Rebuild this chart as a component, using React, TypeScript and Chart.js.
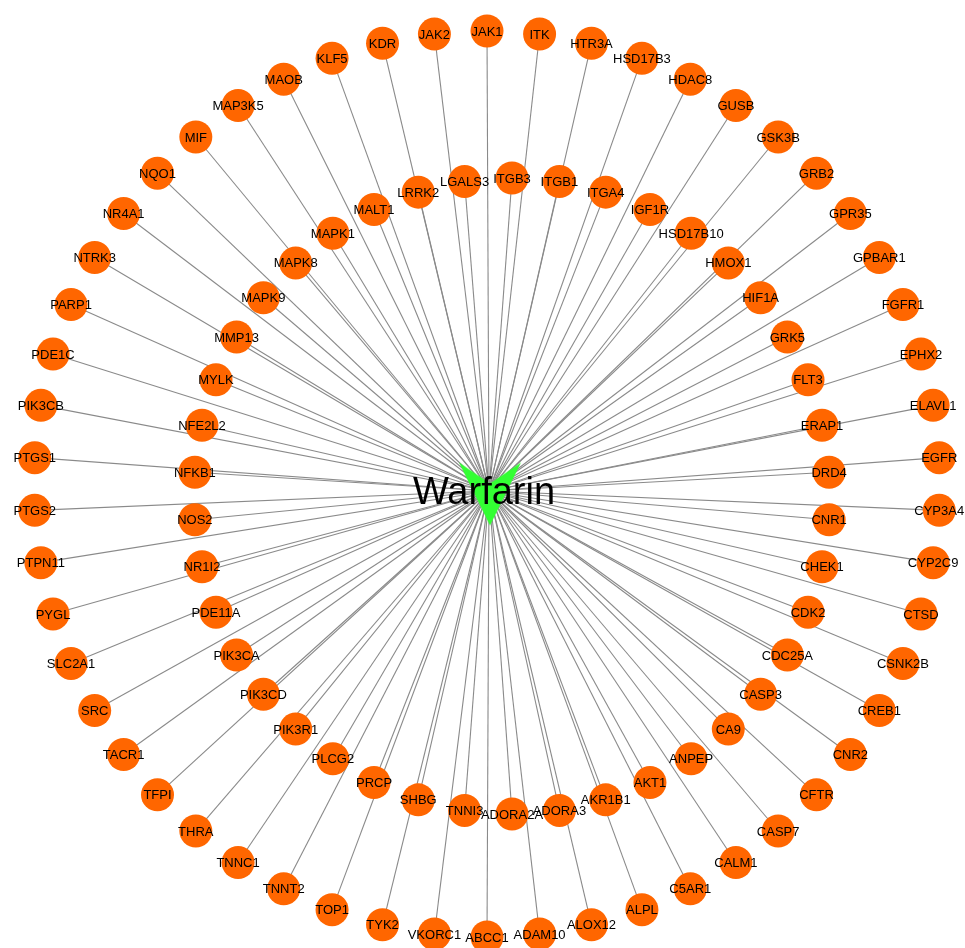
import React, { useEffect, useRef } from "react";
import { Chart, registerables } from "chart.js";

Chart.register(...registerables);

// ---- data ----
const drugName = "Warfarin";

// outer ring of targets, counter-clockwise from the bottom
const outerTargets = [
  "ABCC1", "ADAM10", "ALOX12", "ALPL", "C5AR1", "CALM1", "CASP7", "CFTR", "CNR2", "CREB1",
  "CSNK2B", "CTSD", "CYP2C9", "CYP3A4", "EGFR", "ELAVL1", "EPHX2", "FGFR1", "GPBAR1", "GPR35",
  "GRB2", "GSK3B", "GUSB", "HDAC8", "HSD17B3", "HTR3A", "ITK", "JAK1", "JAK2", "KDR",
  "KLF5", "MAOB", "MAP3K5", "MIF", "NQO1", "NR4A1", "NTRK3", "PARP1", "PDE1C", "PIK3CB",
  "PTGS1", "PTGS2", "PTPN11", "PYGL", "SLC2A1", "SRC", "TACR1", "TFPI", "THRA", "TNNC1",
  "TNNT2", "TOP1", "TYK2", "VKORC1",
];

// inner ring of targets, counter-clockwise from the bottom
const innerTargets = [
  "ADORA2A", "ADORA3", "AKR1B1", "AKT1", "ANPEP", "CA9", "CASP3", "CDC25A", "CDK2", "CHEK1",
  "CNR1", "DRD4", "ERAP1", "FLT3", "GRK5", "HIF1A", "HMOX1", "HSD17B10", "IGF1R", "ITGA4",
  "ITGB1", "ITGB3", "LGALS3", "LRRK2", "MALT1", "MAPK1", "MAPK8", "MAPK9", "MMP13", "MYLK",
  "NFE2L2", "NFKB1", "NOS2", "NR1I2", "PDE11A", "PIK3CA", "PIK3CD", "PIK3R1", "PLCG2", "PRCP",
  "SHBG", "TNNI3",
];

// ---- layout (circular layout, computed from index) ----
const W = 965;
const H = 948;
const DRUG = { x: 490, y: 494 };
const EDGE_HUB = { x: 489, y: 491 };
const OUTER = { cx: 487, cy: 484, r: 453 };
const INNER = { cx: 512, cy: 496, r: 318 };

function ring(names: string[], c: { cx: number; cy: number; r: number }) {
  const n = names.length;
  return names.map((name, i) => {
    const t = (i / n) * Math.PI * 2;
    return { x: c.cx + c.r * Math.sin(t), y: c.cy + c.r * Math.cos(t), name };
  });
}

function makeVShape(): HTMLCanvasElement {
  const c = document.createElement("canvas");
  const w = 62, h = 63;
  c.width = w + 2;
  c.height = h + 2;
  const ctx = c.getContext("2d")!;
  const ox = 1 + w / 2, oy = 1 + h / 2;
  ctx.fillStyle = "#33ff33";
  ctx.beginPath();
  ctx.moveTo(ox - w / 2, oy - h / 2);
  ctx.lineTo(ox, oy - h / 6);
  ctx.lineTo(ox + w / 2, oy - h / 2);
  ctx.lineTo(ox, oy + h / 2);
  ctx.closePath();
  ctx.fill();
  return c;
}

const labelPlugin = {
  id: "nodeLabels",
  afterDatasetsDraw(chart: any) {
    const ctx = chart.ctx;
    ctx.save();
    ctx.textAlign = "center";
    ctx.textBaseline = "middle";
    chart.data.datasets.forEach((ds: any, di: number) => {
      if (!ds.nodeLabels) return;
      const meta = chart.getDatasetMeta(di);
      ctx.font = ds.labelFont;
      ctx.fillStyle = "#000000";
      meta.data.forEach((el: any, i: number) => {
        const dx = ds.labelDx || 0;
        const dy = ds.labelDy || 0;
        ctx.fillText(ds.nodeLabels[i], el.x + dx, el.y + dy);
      });
    });
    ctx.restore();
  },
};

export default function App() {
  const ref = useRef<HTMLCanvasElement | null>(null);

  useEffect(() => {
    if (!ref.current) return;
    const outer = ring(outerTargets, OUTER);
    const inner = ring(innerTargets, INNER);
    const targets = [...outer, ...inner];

    const edgeSets = targets.map((t) => ({
      type: "scatter" as const,
      data: [
        { x: EDGE_HUB.x, y: EDGE_HUB.y },
        { x: t.x, y: t.y },
      ],
      showLine: true,
      borderColor: "#8a8a8a",
      borderWidth: 1.1,
      pointRadius: 0,
      pointHoverRadius: 0,
      clip: false,
      order: 10,
    }));

    const chart = new Chart(ref.current, {
      type: "scatter",
      data: {
        datasets: [
          {
            data: [{ x: DRUG.x, y: DRUG.y }],
            pointStyle: makeVShape() as any,
            pointRadius: 32,
            clip: false,
            order: 1,
            nodeLabels: [drugName],
            labelFont: "38px 'Liberation Sans', Arial, sans-serif",
            labelDx: -6,
            labelDy: 0,
          } as any,
          {
            data: targets.map((t) => ({ x: t.x, y: t.y })),
            backgroundColor: "#ff6600",
            borderColor: "#ff6600",
            borderWidth: 0,
            pointRadius: 16.5,
            pointHoverRadius: 16.5,
            clip: false,
            order: 2,
            nodeLabels: targets.map((t) => t.name),
            labelFont: "13px 'Liberation Sans', Arial, sans-serif",
            labelDx: 0,
            labelDy: 1,
          } as any,
          ...edgeSets,
        ],
      },
      options: {
        animation: false,
        responsive: false,
        devicePixelRatio: 1,
        layout: { padding: 0, autoPadding: false },
        events: [],
        plugins: {
          legend: { display: false },
          tooltip: { enabled: false },
          title: { display: false },
        },
        scales: {
          x: { type: "linear", display: false, min: 0, max: W },
          y: { type: "linear", display: false, min: 0, max: H, reverse: true },
        },
      },
      plugins: [labelPlugin],
    });
    return () => chart.destroy();
  }, []);

  return (
    <div style={{ position: "fixed", left: 0, top: 0, width: W, height: H, background: "#ffffff" }}>
      <canvas ref={ref} width={W} height={H} style={{ display: "block", width: W, height: H }} />
    </div>
  );
}
